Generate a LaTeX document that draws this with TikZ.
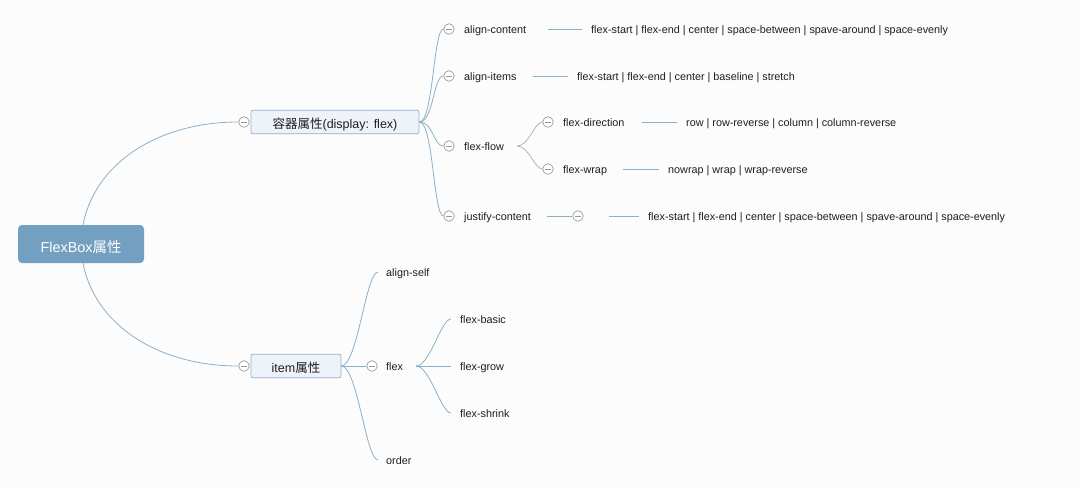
\documentclass[tikz,border=0pt]{standalone}
\usepackage{fontspec}
\setmainfont{Liberation Sans}
\newfontfamily\cjk{Noto Sans CJK SC}
\definecolor{lineblue}{HTML}{8DB0C9}
\definecolor{fangray}{HTML}{A9B9C5}
\definecolor{toggray}{HTML}{9A9A9A}
\definecolor{textdark}{HTML}{1E1E1E}
\definecolor{rootfill}{HTML}{739FC1}
\definecolor{boxfill}{HTML}{EEF3F9}
\definecolor{boxdraw}{HTML}{93AFCB}
\definecolor{bg}{HTML}{FCFCFD}
\begin{document}
\begin{tikzpicture}[x=1pt,y=-1pt,
  conn/.style={draw=lineblue, line width=0.8pt},
  fan/.style={draw=fangray, line width=0.8pt},
  tog/.style={circle, draw=toggray, fill=white, minimum size=10.5pt, inner sep=0pt, line width=0.7pt,
    path picture={\draw[toggray, line width=0.7pt] ([xshift=-3pt]path picture bounding box.center) -- ([xshift=3pt]path picture bounding box.center);}},
  lbl/.style={anchor=west, inner sep=0pt, text height=9.4pt, text depth=0pt, font=\fontsize{10.8}{12}\selectfont, text=textdark},
  rootbox/.style={rectangle, rounded corners=4pt, fill=rootfill, text=white, minimum width=126pt, minimum height=38pt, inner sep=0pt, text height=16pt, text depth=0pt, font=\fontsize{14.4}{16}\selectfont},
  mainbox/.style={rectangle, rounded corners=2pt, fill=boxfill, draw=boxdraw, line width=0.7pt, text=textdark, minimum height=23.5pt, inner sep=0pt, text height=12pt, text depth=0pt, font=\fontsize{12.5}{14}\selectfont},
]
\useasboundingbox (0,0) rectangle (1080,488);
\fill[bg] (0,0) rectangle (1080,488);

% root and main boxes
\node[rootbox] (fb) at (81,244) {FlexBox{\cjk 属性}};
\node[mainbox, minimum width=168pt] (cont) at (335,122) {{\cjk 容器属性}(display: flex)};
\node[mainbox, minimum width=90pt] (item) at (296,366) {item{\cjk 属性}};
\node[tog] (t0) at (244,122) {};
\node[tog] (t1) at (244,366) {};

\draw[conn] ([xshift=2pt]fb.north) .. controls +(12,-62) and +(-80,0) .. (t0.west);
\draw[conn] ([xshift=2pt]fb.south) .. controls +(12,62) and +(-80,0) .. (t1.west);

% container children
\node[tog] (tac) at (449,29) {};
\node[tog] (tai) at (449,76) {};
\node[tog] (tff) at (449,146) {};
\node[tog] (tjc) at (449,216) {};
\node[lbl] (ac) at (464,29) {align-content};
\node[lbl] (ai) at (464,76) {align-items};
\node[lbl] (ff) at (464,146) {flex-flow};
\node[lbl] (jc) at (464,216) {justify-content};

\foreach \t in {tac,tai,tff,tjc}
  \draw[conn] (cont.east) .. controls +(14,0) and +(-10,0) .. (\t.west);

\node[lbl] (acv) at (591,29) {flex-start | flex-end | center | space-between | spave-around | space-evenly};
\node[lbl] (aiv) at (577,76) {flex-start | flex-end | center | baseline | stretch};
\draw[conn] ([xshift=22pt]ac.east) -- ([xshift=-9pt]acv.west);
\draw[conn] ([xshift=16pt]ai.east) -- ([xshift=-9pt]aiv.west);

% flex-flow
\node[tog] (tfd) at (548,122) {};
\node[tog] (tfw) at (548,169) {};
\node[lbl] (fd) at (563,122) {flex-direction};
\node[lbl] (fw) at (563,169) {flex-wrap};
\coordinate (ffo) at (517,146);
\draw[fan] (ffo) .. controls +(12,0) and +(-8,0) .. (tfd.west);
\draw[fan] (ffo) .. controls +(12,0) and +(-8,0) .. (tfw.west);
\node[lbl] (fdv) at (686,122) {row | row-reverse | column | column-reverse};
\node[lbl] (fwv) at (668,169) {nowrap | wrap | wrap-reverse};
\draw[conn] ([xshift=17pt]fd.east) -- ([xshift=-9pt]fdv.west);
\draw[conn] ([xshift=16pt]fw.east) -- ([xshift=-9pt]fwv.west);

% justify-content
\node[tog] (tjv) at (578,216) {};
\node[lbl] (jcv) at (648,216) {flex-start | flex-end | center | space-between | spave-around | space-evenly};
\draw[conn] ([xshift=16pt]jc.east) -- (tjv.west);
\draw[conn] ([xshift=25pt]tjv.east) -- ([xshift=-9pt]jcv.west);

% item children
\node[lbl] (as) at (386,272) {align-self};
\node[tog] (tfl) at (372,366) {};
\node[lbl] (fl) at (386,366) {flex};
\node[lbl] (od) at (386,460) {order};
\draw[conn] (item.east) .. controls +(16,0) and +(-12,0) .. ([xshift=-8pt]as.west);
\draw[conn] (item.east) -- (tfl.west);
\draw[conn] (item.east) .. controls +(16,0) and +(-12,0) .. ([xshift=-8pt]od.west);

\node[lbl] (fba) at (460,319) {flex-basic};
\node[lbl] (fgr) at (460,366) {flex-grow};
\node[lbl] (fsh) at (460,413) {flex-shrink};
\coordinate (flo) at (416,366);
\draw[conn] (flo) .. controls +(14,0) and +(-10,0) .. ([xshift=-9pt]fba.west);
\draw[conn] (flo) -- ([xshift=-9pt]fgr.west);
\draw[conn] (flo) .. controls +(14,0) and +(-10,0) .. ([xshift=-9pt]fsh.west);
\end{tikzpicture}
\end{document}
